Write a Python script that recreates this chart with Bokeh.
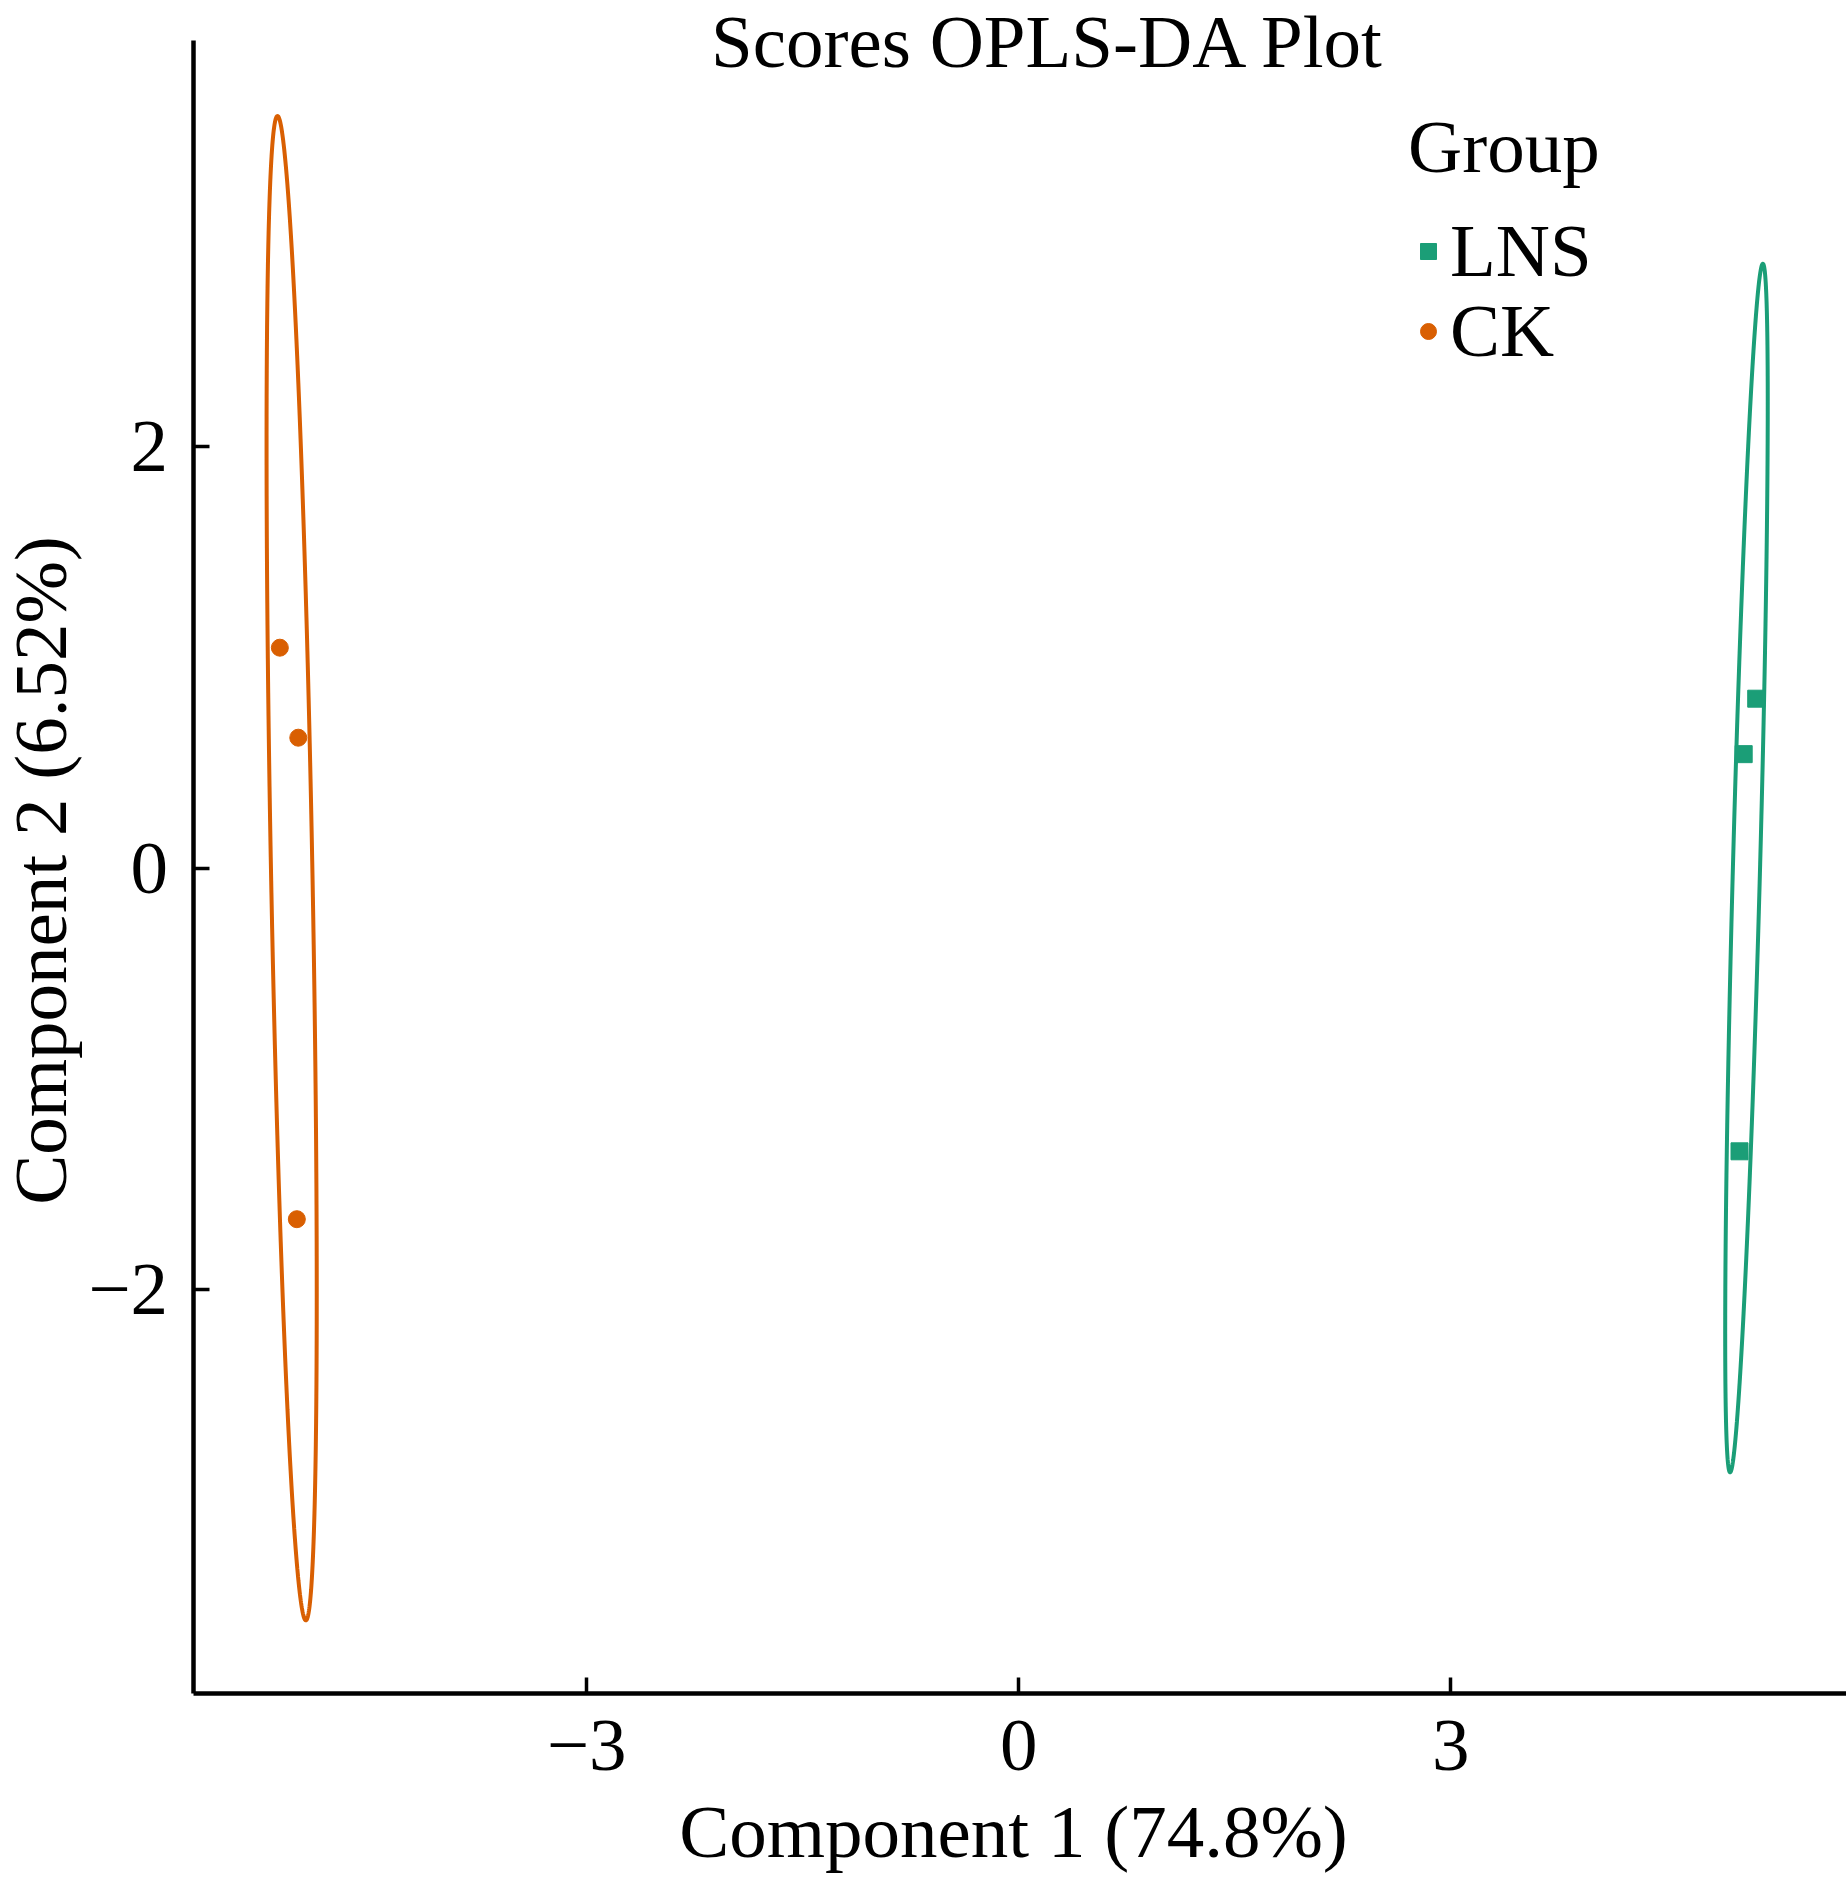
import numpy as np
from bokeh.plotting import figure
from bokeh.models import Range1d, FixedTicker, Label, Legend, LegendItem
from bokeh.embed import file_html
from bokeh.resources import INLINE

# ---------------- data ----------------
groups = ["LNS", "CK"]
lns_x = [5.122, 5.035, 5.006]
lns_y = [0.804, 0.541, -1.343]
ck_x = [-5.131, -5.003, -5.013]
ck_y = [1.046, 0.619, -1.665]
x_ticks = [-3, 0, 3]
x_tick_labels = ["\u22123", "0", "3"]
y_ticks = [-2, 0, 2]
y_tick_labels = ["\u22122", "0", "2"]
group_colors = ["#1B9E77", "#D95F02"]
title_text = "Scores OPLS-DA Plot"
x_label = "Component 1 (74.8%)"
y_label = "Component 2 (6.52%)"
legend_title = "Group"
conf_level = 0.95

# panel limits (data units) of the drawn axes
X_MIN, X_MAX = -5.734, 5.749
Y_MIN, Y_MAX = -3.917, 3.926

FONT = "Liberation Serif"
FS = "75px"
W, H = 1846, 1880


def conf_ellipse(xs, ys, level, n=400):
    pts = np.column_stack([xs, ys])
    mu = pts.mean(axis=0)
    cov = np.cov(pts.T)
    vals, vecs = np.linalg.eigh(cov)
    r = np.sqrt(-2.0 * np.log(1.0 - level))
    t = np.linspace(0, 2 * np.pi, n)
    circ = np.vstack([np.cos(t), np.sin(t)])
    e = (vecs @ np.diag(np.sqrt(np.maximum(vals, 0))) @ circ) * r
    return mu[0] + e[0], mu[1] + e[1]


# the frame covers the whole canvas; axes are pinned at the panel's lower-left corner
p = figure(width=W, height=H, output_backend="svg", toolbar_location=None,
           x_range=Range1d(-7.071, X_MAX), y_range=Range1d(-4.802, 4.116),
           min_border=0)
p.outline_line_color = None
p.xgrid.visible = False
p.ygrid.visible = False
p.background_fill_color = "white"
p.border_fill_color = "white"

p.xaxis.fixed_location = Y_MIN
p.yaxis.fixed_location = X_MIN
p.xaxis.bounds = (X_MIN, X_MAX)
p.yaxis.bounds = (Y_MIN, Y_MAX)

for ax, ticks, labs in ((p.xaxis[0], x_ticks, x_tick_labels), (p.yaxis[0], y_ticks, y_tick_labels)):
    ax.ticker = FixedTicker(ticks=ticks)
    ax.major_label_overrides = {t: l for t, l in zip(ticks, labs)}
    ax.axis_line_width = 4.5
    ax.axis_line_color = "black"
    ax.major_tick_line_width = 3.5
    ax.major_tick_line_color = "black"
    ax.major_tick_in = 16
    ax.major_tick_out = 0
    ax.minor_tick_line_color = None
    ax.major_label_text_font = FONT
    ax.major_label_text_font_size = FS
    ax.major_label_text_color = "black"
p.xaxis.major_label_standoff = 27
p.yaxis.major_label_standoff = 25

# ellipses
ex, ey = conf_ellipse(lns_x, lns_y, conf_level)
p.line(ex, ey, line_color=group_colors[0], line_width=4)
ex, ey = conf_ellipse(ck_x, ck_y, conf_level)
p.line(ex, ey, line_color=group_colors[1], line_width=4)

# points
r_lns = p.scatter(x=lns_x, y=lns_y, marker="square", size=17, fill_color=group_colors[0],
                  line_color=group_colors[0], line_width=1)
r_ck = p.scatter(x=ck_x, y=ck_y, marker="circle", size=17, fill_color=group_colors[1],
                 line_color=group_colors[1], line_width=1)

LEG = dict(label_text_font=FONT, label_text_font_size=FS, label_text_color="black",
           glyph_width=40, glyph_height=40, label_standoff=2, spacing=0,
           padding=0, margin=0, border_line_color=None, background_fill_alpha=0)
legend_a = Legend(items=[LegendItem(label=groups[0], renderers=[r_lns])],
                  location=(1408, 1586), title=legend_title,
                  title_text_font=FONT, title_text_font_size=FS, title_text_font_style="normal",
                  title_text_color="black", title_standoff=18, **LEG)
legend_b = Legend(items=[LegendItem(label=groups[1], renderers=[r_ck])],
                  location=(1408, 1506), **LEG)
p.add_layout(legend_a)
p.add_layout(legend_b)

TXT = dict(x_units="screen", y_units="screen", text_font=FONT, text_font_size=FS,
           text_align="center", text_baseline="alphabetic", text_color="black")
p.add_layout(Label(x=1048, y=H - 41, text=title_text, **TXT))
p.add_layout(Label(x=1013, y=H - 1831, text=x_label, **TXT))
p.add_layout(Label(x=40, y=H - 870, text=y_label, angle=np.pi / 2, **TXT))

open("out.html", "w").write(file_html(p, INLINE))
